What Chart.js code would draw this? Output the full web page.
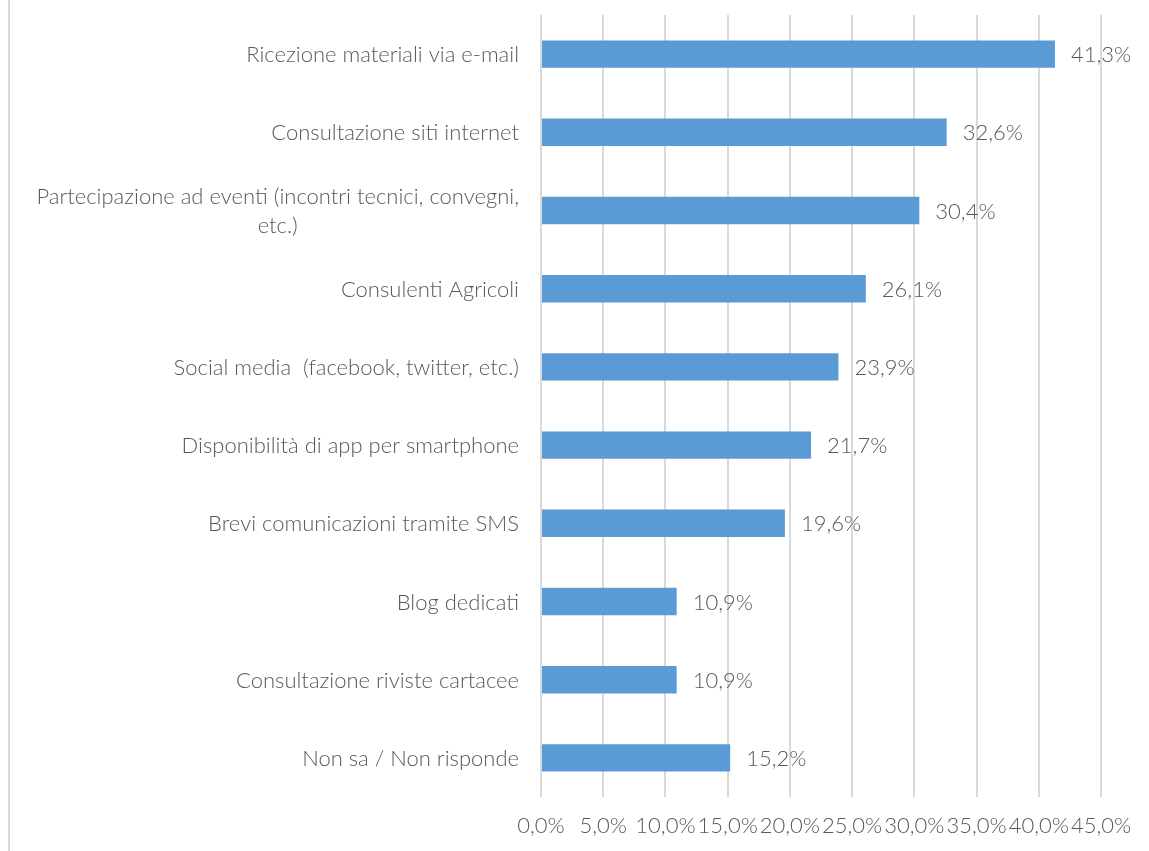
<!DOCTYPE html>
<html>
<head>
<meta charset="utf-8">
<script src="https://cdn.jsdelivr.net/npm/chart.js@4/dist/chart.umd.min.js"></script>
<style>
  html, body { margin: 0; padding: 0; background: #fff; }
  #wrap { position: relative; width: 1149px; height: 851px; }
  #frame { position: absolute; left: 8px; top: 0; width: 0; height: 851px; border-left: 2px solid #d9d9d9; }
</style>
</head>
<body>
<div id="wrap">
  <div id="frame"></div>
  <canvas id="barChart" width="1149" height="851"></canvas>
</div>
<script>
const categories = [
    'Ricezione materiali via e-mail',
    'Consultazione siti internet',
    ['Partecipazione ad eventi (incontri tecnici, convegni,', 'etc.)'],
    'Consulenti Agricoli',
    'Social media  (facebook, twitter, etc.)',
    'Disponibilità di app per smartphone',
    'Brevi comunicazioni tramite SMS',
    'Blog dedicati',
    'Consultazione riviste cartacee',
    'Non sa / Non risponde'
];
const percentuali = [41.3, 32.6, 30.4, 26.1, 23.9, 21.7, 19.6, 10.9, 10.9, 15.2];
const xTicks = [0, 5, 10, 15, 20, 25, 30, 35, 40, 45];

const fmt = v => v.toFixed(1).replace('.', ',') + '%';
const fontBase = { family: 'Lato', size: 22, weight: '300', lineHeight: 1.1 };
const fontCss = '300 22px Lato';
const grigio = '#595959';

// etichette a destra delle barre
const valueLabels = {
    id: 'valueLabels',
    afterDatasetsDraw(chart) {
        const ctx = chart.ctx;
        const meta = chart.getDatasetMeta(0);
        ctx.save();
        ctx.font = fontCss;
        ctx.fillStyle = grigio;
        ctx.textBaseline = 'middle';
        ctx.textAlign = 'left';
        meta.data.forEach((bar, i) => {
            ctx.fillText(fmt(percentuali[i]), bar.x + 16, bar.y + 1);
        });
        ctx.restore();
    }
};

// etichette categorie: blocco allineato a destra, righe centrate (come Excel)
const categoryLabels = {
    id: 'categoryLabels',
    afterDraw(chart) {
        const ctx = chart.ctx;
        const y = chart.scales.y;
        const right = y.right - 22;
        const lh = 29;
        ctx.save();
        ctx.font = fontCss;
        ctx.fillStyle = grigio;
        ctx.textBaseline = 'middle';
        ctx.textAlign = 'center';
        categories.forEach((lab, i) => {
            const lines = Array.isArray(lab) ? lab : [lab];
            const w = Math.max(...lines.map(l => ctx.measureText(l).width));
            const cx = right - w / 2;
            const cy = y.getPixelForValue(i) + 1;
            lines.forEach((l, j) => {
                ctx.fillText(l, cx, cy + (j - (lines.length - 1) / 2) * lh);
            });
        });
        ctx.restore();
    }
};

const ctx = document.getElementById('barChart').getContext('2d');
const myChart = new Chart(ctx, {
    type: 'bar',
    data: {
        labels: categories,
        datasets: [{
            data: percentuali,
            backgroundColor: '#5b9bd5',
            borderWidth: 0,
            categoryPercentage: 1,
            barPercentage: 0.35
        }]
    },
    options: {
        indexAxis: 'y',
        responsive: false,
        animation: false,
        layout: { padding: { top: 15, right: 48, left: 0, bottom: 0 } },
        plugins: {
            legend: { display: false },
            tooltip: { enabled: false }
        },
        scales: {
            x: {
                min: 0,
                max: 45,
                afterBuildTicks: scale => { scale.ticks = xTicks.map(v => ({ value: v })); },
                afterFit: scale => { scale.height = 54; scale.paddingLeft = 0; scale.paddingRight = 0; },
                grid: { color: '#d9d9d9', lineWidth: 2, drawTicks: false },
                border: { display: false },
                ticks: {
                    autoSkip: false,
                    maxRotation: 0,
                    padding: 17,
                    color: grigio,
                    font: fontBase,
                    callback: v => fmt(v)
                }
            },
            y: {
                afterFit: scale => { scale.width = 541; scale.paddingTop = 0; scale.paddingBottom = 0; },
                grid: { display: false, drawTicks: false },
                border: { display: false },
                ticks: { display: false }
            }
        }
    },
    plugins: [valueLabels, categoryLabels]
});
</script>
</body>
</html>
